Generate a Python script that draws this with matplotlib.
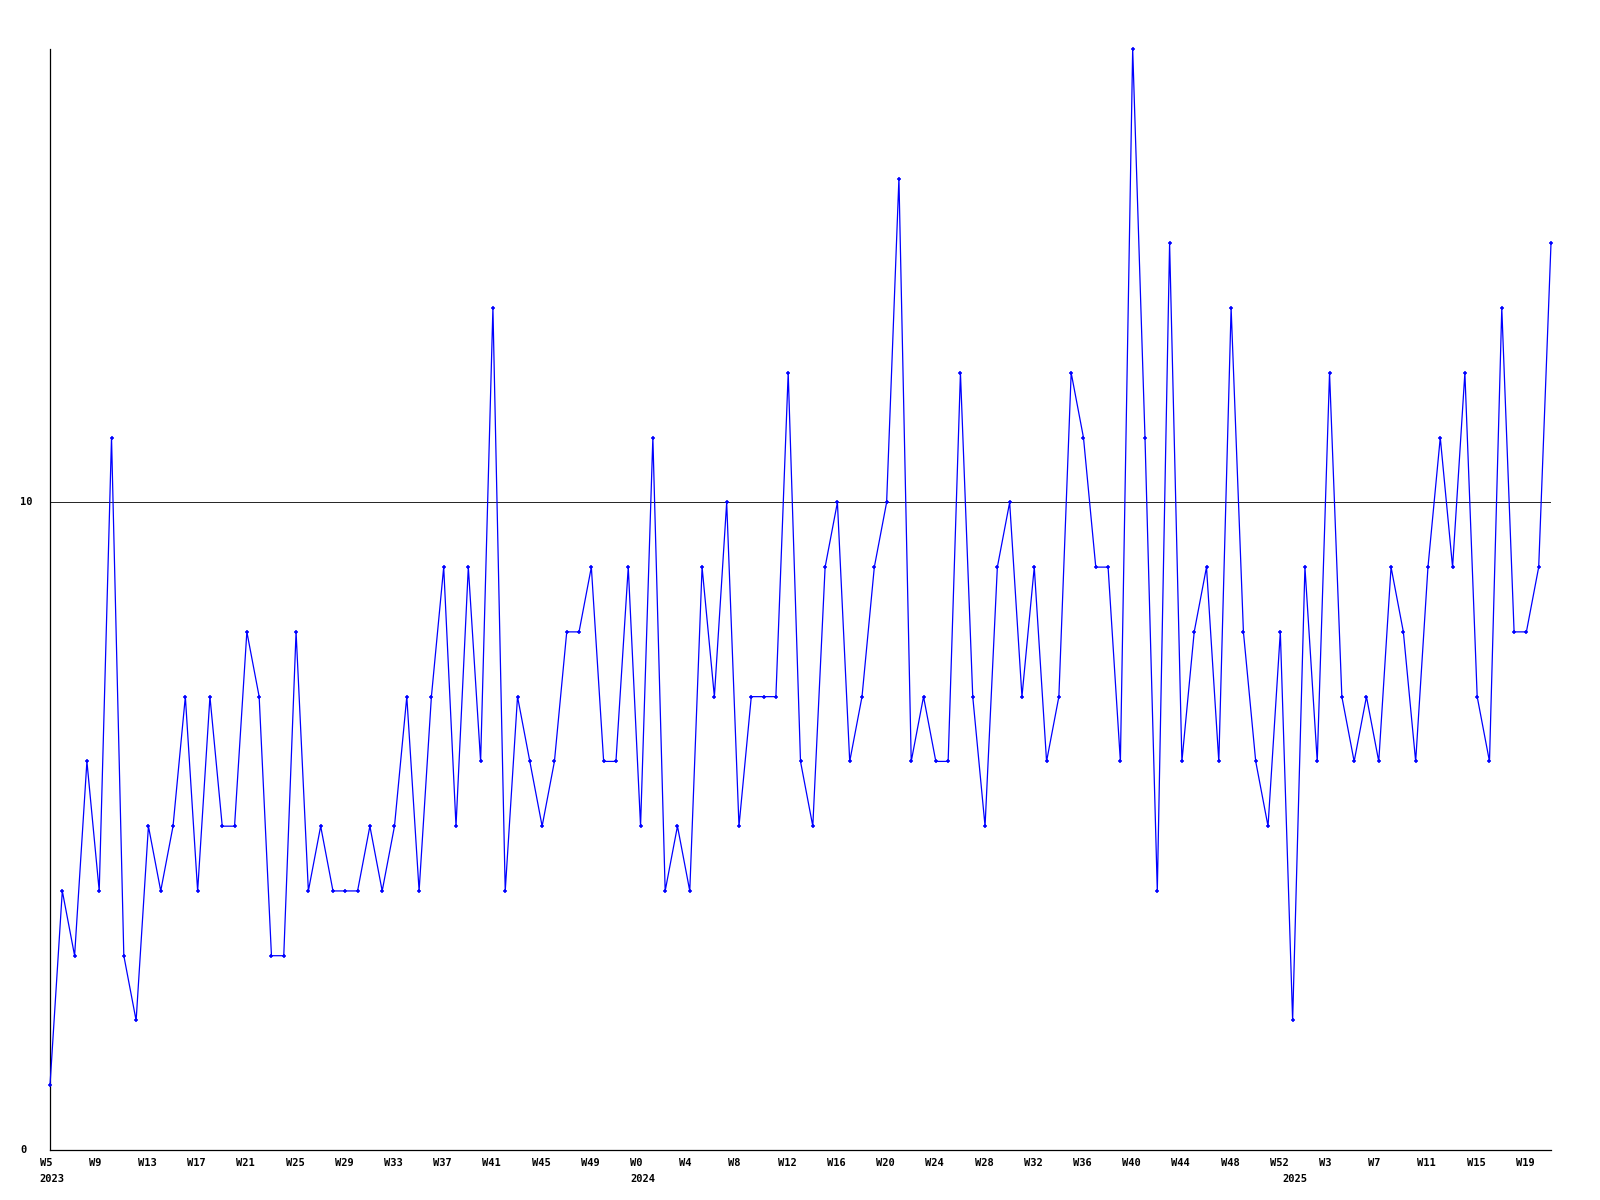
import matplotlib
matplotlib.use("Agg")
import matplotlib.pyplot as plt
import matplotlib.transforms as mtransforms

# weekly counts, 2023 W5 .. 2025 W21
values = [
    1, 4, 3, 6, 4, 11, 3, 2, 5, 4, 5, 7, 4, 7, 5, 5, 8, 7, 3, 3, 8, 4, 5, 4, 4, 4, 5, 4, 5, 7, 4,
    7, 9, 5, 9, 6, 13, 4, 7, 6, 5, 6, 8, 8, 9, 6, 6, 9, 5, 11, 4, 5, 4, 9, 7, 10, 5, 7, 7, 7, 12, 6, 5,
    9, 10, 6, 7, 9, 10, 15, 6, 7, 6, 6, 12, 7, 5, 9, 10, 7, 9, 6, 7, 12, 11, 9, 9, 6, 17, 11, 4, 14, 6, 8, 9, 6,
    13, 8, 6, 5, 8, 2, 9, 6, 12, 7, 6, 7, 6, 9, 8, 6, 9, 11, 9, 12, 7, 6, 13, 8, 8, 9, 14,
]
weeks = ([f"W{w}" for w in range(5, 53)]
         + [f"W{w}" for w in range(0, 53)]
         + [f"W{w}" for w in range(0, 22)])
years = ["2023"] * 48 + ["2024"] * 53 + ["2025"] * 22
y_ticks = [0, 10]
tick_step = 4

W, H = 1600, 1200
fig = plt.figure(figsize=(W / 100, H / 100), dpi=100)
ax = fig.add_axes([50 / W, 50 / H, 1501 / W, 1101 / H])

x = list(range(len(values)))
ax.plot(x, values, color="#0000ff", lw=0.9, marker="+", ms=3.4, mew=1.1,
        clip_on=False, zorder=3)
ax.axhline(10, color="black", lw=0.6, zorder=1)

ax.set_xlim(0, len(values) - 1)
ax.set_ylim(0, 17)
ax.set_xticks([])
ax.set_yticks([])
for s in ["top", "right"]:
    ax.spines[s].set_visible(False)
for s in ["left", "bottom"]:
    ax.spines[s].set_linewidth(0.9)
    ax.spines[s].set_color("black")

font = dict(family="DejaVu Sans Mono", weight="bold", size=7.5, color="black")

# y labels
ytrans = mtransforms.blended_transform_factory(fig.transFigure, ax.transData)
for v in y_ticks:
    ax.text(20 / W, v, str(v), transform=ytrans, ha="left", va="center", **font)

# x labels: week every 4 points, year at the first week of each year
shift = mtransforms.ScaledTranslation(-10.5 / 100, 0, fig.dpi_scale_trans)
xtrans = mtransforms.blended_transform_factory(ax.transData, fig.transFigure) + shift
for i in range(0, len(weeks), tick_step):
    ax.text(i, 1 - 1163 / H, weeks[i], transform=xtrans, ha="left", va="center", **font)
for i, yr in enumerate(years):
    if i == 0 or years[i - 1] != yr:
        ax.text(i, 1 - 1179 / H, yr, transform=xtrans, ha="left", va="center", **font)

fig.savefig("out.png", dpi=100)
